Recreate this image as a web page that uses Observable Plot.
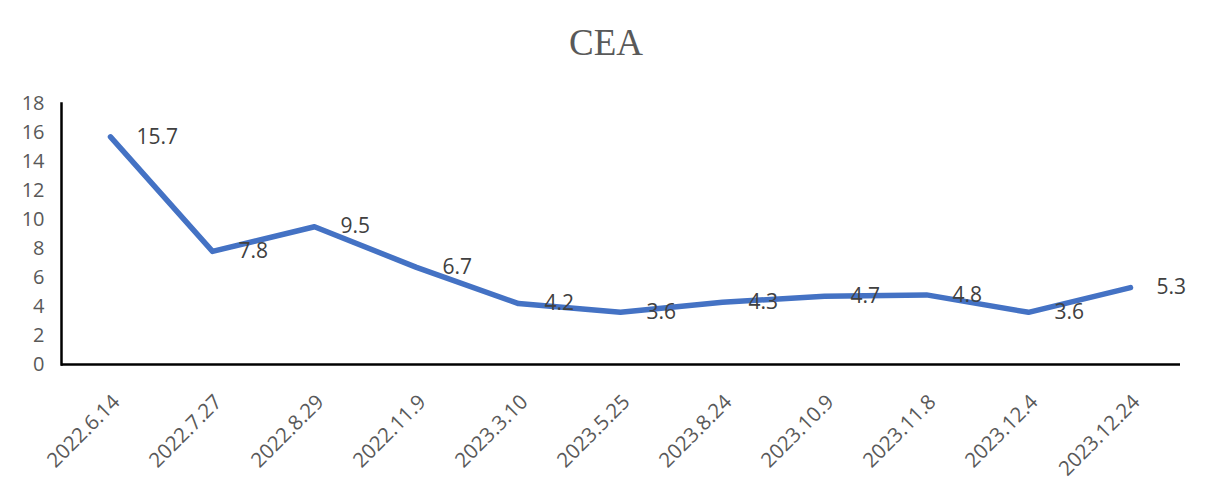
<!DOCTYPE html>
<html><head><meta charset="utf-8">
<script src="https://cdn.jsdelivr.net/npm/d3@7"></script>
<script src="https://cdn.jsdelivr.net/npm/@observablehq/plot@0.6"></script>
<style>
body{margin:0;background:#fff;}
#title{font-family:"Liberation Serif",serif;font-size:37px;line-height:36px;height:61px;box-sizing:border-box;padding-top:25px;text-align:center;color:#595959;width:1212px;}
#chart svg{display:block;}
</style></head><body>
<div id="title">CEA</div>
<div id="chart"></div>
<script>
const dates = ["2022.6.14","2022.7.27","2022.8.29","2022.11.9","2023.3.10","2023.5.25","2023.8.24","2023.10.9","2023.11.8","2023.12.4","2023.12.24"];
const values = [15.7, 7.8, 9.5, 6.7, 4.2, 3.6, 4.3, 4.7, 4.8, 3.6, 5.3];
const yTicks = [0, 2, 4, 6, 8, 10, 12, 14, 16, 18];
const data = dates.map((d, i) => ({date: d, value: values[i]}));

const chart = Plot.plot({
  width: 1209, height: 440,
  marginTop: 42, marginBottom: 137, marginLeft: 61, marginRight: 29,
  style: {fontFamily: "'Open Sans', sans-serif", fontSize: "20px", background: "white", overflow: "visible"},
  x: {type: "point", domain: dates, range: [110, 1130], padding: 0},
  y: {domain: [0, 18]},
  marks: [
    Plot.axisY({ticks: yTicks, tickSize: 0, tickPadding: 17, label: null, fill: "#595959", fontSize: 20}),
    Plot.axisX({tickRotate: -45, tickSize: 0, tickPadding: 34, dx: 6, textAnchor: "end", lineAnchor: "middle", label: null, fill: "#595959", fontSize: 20.5}),
    Plot.frame({anchor: "left", stroke: "black", strokeWidth: 2.5}),
    Plot.ruleY([0], {stroke: "black", strokeWidth: 2.5}),
    Plot.line(data, {x: "date", y: "value", stroke: "#4472C4", strokeWidth: 5.5, strokeLinejoin: "round", strokeLinecap: "round"}),
    Plot.text(data, {x: "date", y: "value", text: d => d.value.toFixed(1), dx: 26, textAnchor: "start", fill: "#404040", fontSize: 21})
  ]
});
document.getElementById("chart").appendChild(chart);
</script>
</body></html>
